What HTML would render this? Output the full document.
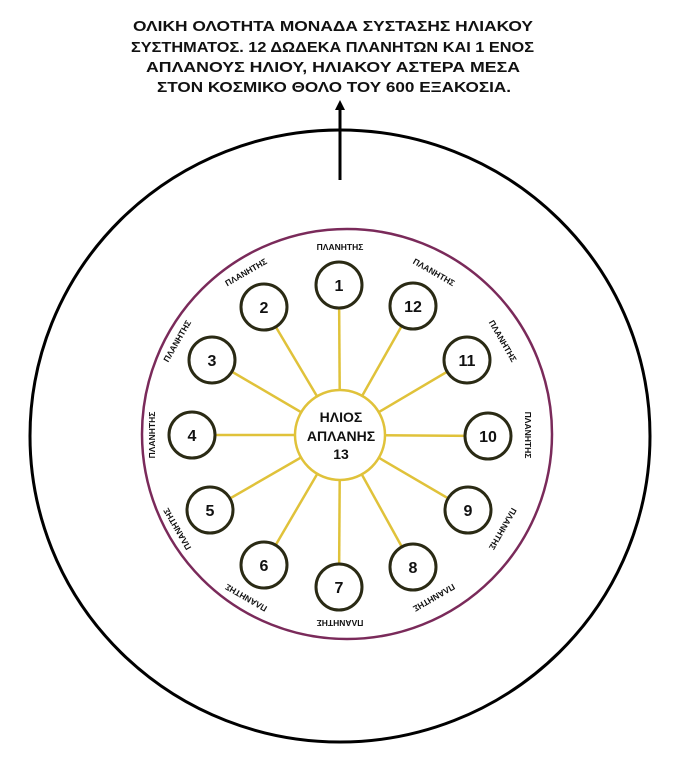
<!DOCTYPE html>
<html><head><meta charset="utf-8"><style>
html,body{margin:0;padding:0;background:#fff;}
svg{display:block;}
text{font-family:"Liberation Sans",sans-serif;font-weight:bold;fill:#111;}
</style></head><body>
<svg width="685" height="768" viewBox="0 0 685 768" xmlns="http://www.w3.org/2000/svg">
<g font-size="15" lengthAdjust="spacingAndGlyphs">
<text x="133" y="31" textLength="400" lengthAdjust="spacingAndGlyphs">ΟΛΙΚΗ ΟΛΟΤΗΤΑ ΜΟΝΑΔΑ ΣΥΣΤΑΣΗΣ ΗΛΙΑΚΟΥ</text>
<text x="131" y="52" textLength="403" lengthAdjust="spacingAndGlyphs">ΣΥΣΤΗΜΑΤΟΣ. 12 ΔΩΔΕΚΑ ΠΛΑΝΗΤΩΝ ΚΑΙ 1 ΕΝΟΣ</text>
<text x="146" y="72" textLength="374" lengthAdjust="spacingAndGlyphs">ΑΠΛΑΝΟΥΣ ΗΛΙΟΥ, ΗΛΙΑΚΟΥ ΑΣΤΕΡΑ ΜΕΣΑ</text>
<text x="157" y="92" textLength="354" lengthAdjust="spacingAndGlyphs">ΣΤΟΝ ΚΟΣΜΙΚΟ ΘΟΛΟ ΤΟΥ 600 ΕΞΑΚΟΣΙΑ.</text>
</g>
<ellipse cx="340" cy="436" rx="310" ry="306" fill="none" stroke="#000" stroke-width="3"/>
<line x1="340" y1="180" x2="340" y2="106" stroke="#000" stroke-width="3"/>
<polygon points="340,100 335,110 345,110" fill="#000"/>
<circle cx="347" cy="434" r="205" fill="none" stroke="#7a2a5a" stroke-width="2.5"/>
<g stroke="#e0c23a" stroke-width="2.5">
<line x1="340" y1="435" x2="339" y2="285"/>
<line x1="340" y1="435" x2="413" y2="306"/>
<line x1="340" y1="435" x2="467" y2="360"/>
<line x1="340" y1="435" x2="488" y2="436"/>
<line x1="340" y1="435" x2="468" y2="510"/>
<line x1="340" y1="435" x2="413" y2="567"/>
<line x1="340" y1="435" x2="339" y2="587"/>
<line x1="340" y1="435" x2="264" y2="565"/>
<line x1="340" y1="435" x2="210" y2="510"/>
<line x1="340" y1="435" x2="192" y2="435"/>
<line x1="340" y1="435" x2="212" y2="360"/>
<line x1="340" y1="435" x2="264" y2="307"/>
</g>
<circle cx="340" cy="435" r="45" fill="#fff" stroke="#e0c23a" stroke-width="2.5"/>
<g text-anchor="middle" font-size="14">
<text x="341" y="422">ΗΛΙΟΣ</text>
<text x="341" y="441">ΑΠΛΑΝΗΣ</text>
<text x="341" y="459">13</text>
</g>
<g fill="#fff" stroke="#2a2a14" stroke-width="3">
<circle cx="339" cy="285" r="23"/><circle cx="413" cy="306" r="23"/>
<circle cx="467" cy="360" r="23"/><circle cx="488" cy="436" r="23"/>
<circle cx="468" cy="510" r="23"/><circle cx="413" cy="567" r="23"/>
<circle cx="339" cy="587" r="23"/><circle cx="264" cy="565" r="23"/>
<circle cx="210" cy="510" r="23"/><circle cx="192" cy="435" r="23"/>
<circle cx="212" cy="360" r="23"/><circle cx="264" cy="307" r="23"/>
</g>
<g text-anchor="middle" font-size="16">
<text x="339" y="291">1</text><text x="413" y="312">12</text>
<text x="467" y="366">11</text><text x="488" y="442">10</text>
<text x="468" y="516">9</text><text x="413" y="573">8</text>
<text x="339" y="593">7</text><text x="264" y="571">6</text>
<text x="210" y="516">5</text><text x="192" y="441">4</text>
<text x="212" y="366">3</text><text x="264" y="313">2</text>
</g>
<g text-anchor="middle" font-size="8.5">
<text transform="translate(340,435) rotate(0) translate(0,-185)">ΠΛΑΝΗΤΗΣ</text>
<text transform="translate(340,435) rotate(30) translate(0,-185)">ΠΛΑΝΗΤΗΣ</text>
<text transform="translate(340,435) rotate(60) translate(0,-185)">ΠΛΑΝΗΤΗΣ</text>
<text transform="translate(340,435) rotate(90) translate(0,-185)">ΠΛΑΝΗΤΗΣ</text>
<text transform="translate(340,435) rotate(120) translate(0,-185)">ΠΛΑΝΗΤΗΣ</text>
<text transform="translate(340,435) rotate(150) translate(0,-185)">ΠΛΑΝΗΤΗΣ</text>
<text transform="translate(340,435) rotate(180) translate(0,-185)">ΠΛΑΝΗΤΗΣ</text>
<text transform="translate(340,435) rotate(210) translate(0,-185)">ΠΛΑΝΗΤΗΣ</text>
<text transform="translate(340,435) rotate(240) translate(0,-185)">ΠΛΑΝΗΤΗΣ</text>
<text transform="translate(340,435) rotate(270) translate(0,-185)">ΠΛΑΝΗΤΗΣ</text>
<text transform="translate(340,435) rotate(300) translate(0,-185)">ΠΛΑΝΗΤΗΣ</text>
<text transform="translate(340,435) rotate(330) translate(0,-185)">ΠΛΑΝΗΤΗΣ</text>
</g>
</svg>
</body></html>
